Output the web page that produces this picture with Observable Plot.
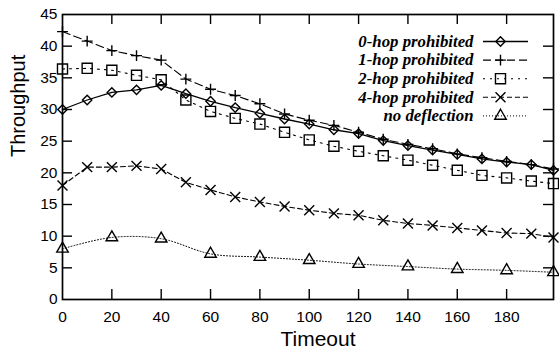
<!DOCTYPE html>
<html>
<head>
<meta charset="utf-8">
<script src="https://cdn.jsdelivr.net/npm/d3@7"></script>
<script src="https://cdn.jsdelivr.net/npm/@observablehq/plot@0.6"></script>
<style>
  html, body { margin: 0; padding: 0; background: #fff; }
  #chart svg { display: block; }
</style>
</head>
<body>
<div id="chart"></div>
<script>
// ---- data ----
const timeout = [0, 10, 20, 30, 40, 50, 60, 70, 80, 90, 100, 110, 120, 130, 140, 150, 160, 170, 180, 190, 199];
const hop0 = [30.0, 31.5, 32.7, 33.1, 33.8, 32.5, 31.3, 30.3, 29.4, 28.5, 27.7, 26.8, 26.2, 25.1, 24.3, 23.6, 22.9, 22.2, 21.7, 21.3, 20.4];
const hop1 = [42.3, 40.8, 39.3, 38.5, 37.8, 34.8, 33.2, 32.2, 30.9, 29.3, 28.3, 27.5, 26.4, 25.3, 24.5, 23.8, 23.0, 22.4, 21.8, 21.3, 20.6];
const hop2 = [36.4, 36.5, 36.2, 35.4, 34.7, 31.5, 29.7, 28.6, 27.7, 26.4, 25.2, 24.2, 23.4, 22.7, 22.0, 21.2, 20.4, 19.6, 19.2, 18.7, 18.3];
const hop4 = [18.0, 20.9, 20.9, 21.1, 20.6, 18.5, 17.3, 16.2, 15.4, 14.7, 14.1, 13.6, 13.3, 12.5, 12.0, 11.7, 11.3, 10.9, 10.5, 10.4, 9.8];
const timeoutNoDefl = [0, 20, 40, 60, 80, 100, 120, 140, 160, 180, 199];
const noDefl = [8.0, 9.8, 9.6, 7.2, 6.7, 6.2, 5.6, 5.2, 4.8, 4.6, 4.3];
const seriesNames = ["0-hop prohibited", "1-hop prohibited", "2-hop prohibited", "4-hop prohibited", "no deflection"];
const xTickLabels = [0, 20, 40, 60, 80, 100, 120, 140, 160, 180];
const yTickLabels = [0, 5, 10, 15, 20, 25, 30, 35, 40, 45];

// ---- layout / style ----
const W = 559, H = 348;
const mL = 62, mR = 6, mT = 14, mB = 49;
const xDom = [0, 199], yDom = [0, 45];
const plotW = W - mL - mR, plotH = H - mT - mB;
const xd = px => xDom[0] + (px - mL) / plotW * (xDom[1] - xDom[0]);
const yd = py => yDom[0] + (H - mB - py) / plotH * (yDom[1] - yDom[0]);

const styles = [
  {symbol: "diamond2", r: 4.2, dash: null, sw: 1.3},
  {symbol: "plus", r: 3.6, dash: "8,4", sw: 1.1},
  {symbol: "square2", r: 6.4, dash: "2,5", sw: 1.1},
  {symbol: "times", r: 4.6, dash: "5,3", sw: 1.1},
  {symbol: "triangle2", r: 5.5, dash: "1,2", sw: 1}
];
const seriesX = [timeout, timeout, timeout, timeout, timeoutNoDefl];
const seriesY = [hop0, hop1, hop2, hop4, noDefl];

const marks = [];
seriesY.forEach((vals, s) => {
  const rows = vals.map((v, i) => ({t: seriesX[s][i], v}));
  const st = styles[s];
  marks.push(Plot.line(rows, {x: "t", y: "v", stroke: "black", strokeWidth: st.sw,
    strokeDasharray: st.dash, curve: s === 4 ? "catmull-rom" : "linear"}));
  marks.push(Plot.dot(rows, {x: "t", y: "v", symbol: () => st.symbol, r: st.r,
    stroke: "black", strokeWidth: 1.4, fill: "none"}));
});

// legend (inside plot, top right)
const legTextRight = 473, legLine1 = 483, legLine2 = 528, legMark = 500;
const legRows = seriesNames.map((name, i) => ({name, i, y: yd(41 + i * 18.6)}));
legRows.forEach(row => {
  const st = styles[row.i];
  marks.push(Plot.ruleY([row], {y: "y", x1: xd(legLine1), x2: xd(legLine2), stroke: "black",
    strokeWidth: st.sw, strokeDasharray: st.dash}));
  marks.push(Plot.dot([row], {x: xd(legMark), y: "y", symbol: () => st.symbol, r: st.r,
    stroke: "black", strokeWidth: 1.4, fill: "none"}));
});
marks.push(Plot.text(legRows, {x: xd(legTextRight), y: "y", text: "name", textAnchor: "end",
  fontFamily: "Liberation Serif", fontWeight: "bold", fontStyle: "italic", fontSize: 16.8, fill: "black"}));

const chart = Plot.plot({
  width: W, height: H,
  marginLeft: mL, marginRight: mR, marginTop: mT, marginBottom: mB,
  style: {fontFamily: "Liberation Sans, Arial, sans-serif", background: "white", color: "black"},
  x: {domain: xDom},
  y: {domain: yDom},
  marks: [
    ...marks,
    // inward ticks on all four sides
    Plot.tickX(xTickLabels.slice(1), {x: d => d, insetTop: plotH - 10, stroke: "black", strokeWidth: 1.4}),
    Plot.tickX(xTickLabels.slice(1), {x: d => d, insetBottom: plotH - 10, stroke: "black", strokeWidth: 1.4}),
    Plot.tickY(yTickLabels.slice(1, -1), {y: d => d, insetRight: plotW - 10, stroke: "black", strokeWidth: 1.4}),
    Plot.tickY(yTickLabels.slice(1, -1), {y: d => d, insetLeft: plotW - 10, stroke: "black", strokeWidth: 1.4}),
    Plot.axisX({ticks: xTickLabels, tickSize: 0, tickPadding: 11, fontSize: 15.5, label: null, tickFormat: d => String(d)}),
    Plot.axisY({ticks: yTickLabels, tickSize: 0, tickPadding: 5, fontSize: 15.5, label: null, tickFormat: d => String(d)}),
    Plot.text(["Timeout"], {frameAnchor: "bottom", dy: 46, dx: 10, lineAnchor: "bottom", text: d => d, fontSize: 21, fill: "black"}),
    Plot.text(["Throughput"], {frameAnchor: "left", dx: -44, rotate: -90, text: d => d, fontSize: 20, fill: "black"}),
    Plot.frame({stroke: "black", strokeWidth: 1.7})
  ]
});
document.getElementById("chart").appendChild(chart);
</script>
</body>
</html>
